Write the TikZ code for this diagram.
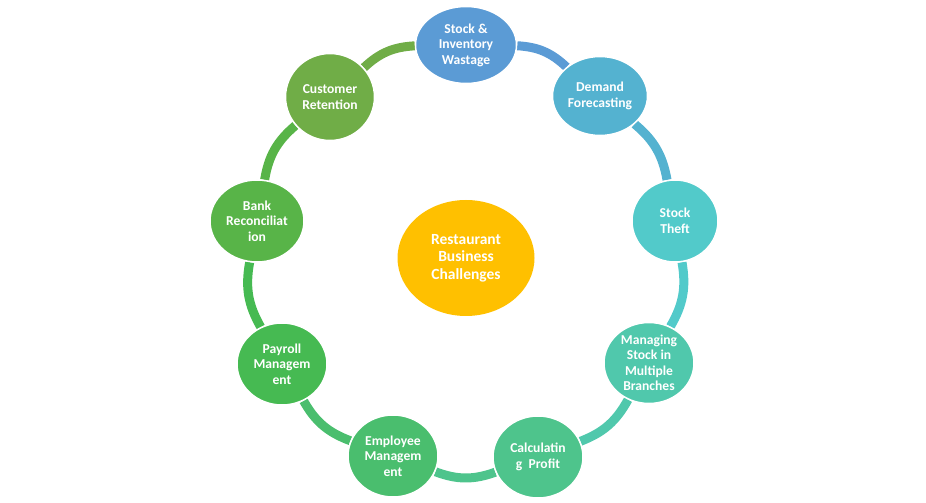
\documentclass[tikz,border=0pt]{standalone}
\usepackage{fontspec}
\setmainfont{Carlito}[BoldFont={Carlito Bold}]
\usetikzlibrary{shapes.geometric,backgrounds}
\definecolor{cSI}{RGB}{91,155,213}
\definecolor{cDF}{RGB}{84,178,208}
\definecolor{cST}{RGB}{82,202,202}
\definecolor{cMS}{RGB}{80,200,172}
\definecolor{cCP}{RGB}{78,196,140}
\definecolor{cEM}{RGB}{74,190,110}
\definecolor{cPM}{RGB}{70,186,82}
\definecolor{cBR}{RGB}{88,180,72}
\definecolor{cCR}{RGB}{112,173,71}
\definecolor{cCE}{RGB}{255,192,0}
\begin{document}
\begin{tikzpicture}[x=1pt,y=1pt,
  bub/.style={ellipse,draw=white,line width=1.5pt,text=white,align=center,
    inner sep=0pt,font=\fontsize{13.6}{15.5}\selectfont\bfseries},
  ring/.style={line width=9pt,bend left=20}]
\useasboundingbox (0,0) rectangle (926,503);
\node[bub,fill=cSI,minimum width=101pt,minimum height=77pt] (si) at (466,458) {Stock \&\\Inventory\\Wastage};
\node[bub,fill=cDF,minimum width=95pt,minimum height=79pt] (df) at (600,407) {Demand\\Forecasting};
\node[bub,fill=cST,minimum width=86pt,minimum height=82pt] (st) at (675,282) {Stock\\Theft};
\node[bub,fill=cMS,minimum width=90pt,minimum height=81pt] (ms) at (649,140) {Managing\\Stock in\\Multiple\\Branches};
\node[bub,fill=cCP,minimum width=90pt,minimum height=82pt] (cp) at (538,46) {Calculatin\\g\ \ Profit};
\node[bub,fill=cEM,minimum width=90pt,minimum height=82pt] (em) at (393,47) {Employee\\Managem\\ent};
\node[bub,fill=cPM,minimum width=90pt,minimum height=82pt] (pm) at (282,139) {Payroll\\Managem\\ent};
\node[bub,fill=cBR,minimum width=94pt,minimum height=82pt] (br) at (257,282) {Bank\\Reconciliat\\ion};
\node[bub,fill=cCR,minimum width=89pt,minimum height=87pt] (cr) at (330,406) {Customer\\Retention};
\node[bub,fill=cCE,draw=none,minimum width=137pt,minimum height=116pt,
  font=\fontsize{15.5}{17.5}\selectfont\bfseries] (ce) at (466,245) {Restaurant\\Business\\Challenges};
\begin{scope}[on background layer]
\draw[ring,cSI] (si) to (df);
\draw[ring,cDF] (df) to (st);
\draw[ring,cST] (st) to (ms);
\draw[ring,cMS] (ms) to (cp);
\draw[ring,cCP] (cp) to (em);
\draw[ring,cEM] (em) to (pm);
\draw[ring,cPM] (pm) to (br);
\draw[ring,cBR] (br) to (cr);
\draw[ring,cCR] (cr) to (si);
\end{scope}
\end{tikzpicture}
\end{document}
